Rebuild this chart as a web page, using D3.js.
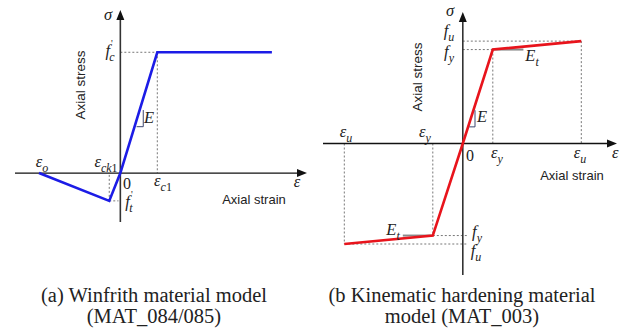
<!DOCTYPE html>
<html>
<head>
<meta charset="utf-8">
<script src="https://cdn.jsdelivr.net/npm/d3@7"></script>
<style>
  body { margin: 0; background: #fff; }
  svg { display: block; }
</style>
</head>
<body>
<svg id="chart" width="622" height="333"></svg>
<script>
// (a) Winfrith: strain in units of eps_c1, stress in units of f'c
const winfrithCurve = [[-2.2, 0], [-0.3, -0.23], [0, 0], [1, 1], [4.1, 1]];
const winfrithXDomain = [-2.85, 5.05];
const winfrithYDomain = [-0.405, 1.35];
// (b) Kinematic hardening: strain in units of eps_y, stress in units of f_y
const kinematicCurve = [[-3.95, -1.07], [-1, -0.98], [0, 0], [1, 1], [3.95, 1.09]];
const kinematicXDomain = [-4.66, 5.14];
const kinematicYDomain = [-1.4, 1.4];

const captionA = ['(a) Winfrith material model', '(MAT_084/085)'];
const captionB = ['(b Kinematic hardening material', 'model (MAT_003)'];

const svg = d3.select('#chart');
const serif = '"Liberation Serif", "Times New Roman", serif';
const sans = '"Liberation Sans", Arial, sans-serif';

function drawAxes(g, x, y) {
  const x0 = x(0), y0 = y(0);
  const [xa, xb] = x.range(), [ya, yb] = y.range();
  g.append('line').attr('x1', xa).attr('x2', xb - 4).attr('y1', y0).attr('y2', y0)
    .attr('stroke', '#111').attr('stroke-width', 1.3);
  g.append('line').attr('x1', x0).attr('x2', x0).attr('y1', ya).attr('y2', yb + 4)
    .attr('stroke', '#333').attr('stroke-width', 1.6);
  g.append('path').attr('d', `M${xb},${y0} L${xb - 10},${y0 - 4} L${xb - 10},${y0 + 4}Z`).attr('fill', '#111');
  g.append('path').attr('d', `M${x0},${yb} L${x0 - 4},${yb + 10} L${x0 + 4},${yb + 10}Z`).attr('fill', '#111');
}

function dashed(g, x, y, segs) {
  g.selectAll(null).data(segs).join('line')
    .attr('x1', d => x(d[0])).attr('y1', d => y(d[1]))
    .attr('x2', d => x(d[2])).attr('y2', d => y(d[3]))
    .attr('stroke', '#777').attr('stroke-width', 1)
    .attr('stroke-dasharray', '2,2');
}

function curve(g, x, y, pts, color) {
  g.append('path').datum(pts)
    .attr('d', d3.line().x(d => x(d[0])).y(d => y(d[1])))
    .attr('fill', 'none').attr('stroke', color).attr('stroke-width', 2.6)
    .attr('stroke-linejoin', 'miter');
}

// math label: base letter, optional prime, subscript (digits upright)
function mathLabel(g, px, py, base, sub, prime, anchor) {
  const t = g.append('text').attr('x', px).attr('y', py)
    .attr('font-family', serif).attr('font-size', 16.5).attr('fill', '#222')
    .attr('text-anchor', anchor || 'middle');
  t.append('tspan').attr('font-style', 'italic').text(base);
  let dy = 4.5;
  if (prime) {
    t.append('tspan').attr('font-size', 10).attr('dy', -9).attr('dx', 1).text("'");
    dy = 13.5;
  }
  if (sub) {
    const parts = sub.match(/[a-z]+|[0-9]+/g);
    parts.forEach((p, i) => {
      const s = t.append('tspan').attr('font-size', 12)
        .attr('font-style', /[0-9]/.test(p) ? 'normal' : 'italic').text(p);
      if (i === 0) {
        s.attr('dy', dy);
        if (prime) s.attr('dx', -3.5);
      }
    });
  }
  return t;
}

function plainText(g, px, py, txt, opts) {
  const t = g.append('text').attr('x', px).attr('y', py).text(txt)
    .attr('font-family', opts.family).attr('font-size', opts.size).attr('fill', '#222')
    .attr('text-anchor', opts.anchor || 'middle');
  if (opts.italic) t.attr('font-style', 'italic');
  if (opts.rotate) t.attr('transform', `rotate(-90,${px},${py})`);
  return t;
}

// ---------- (a) Winfrith ----------
{
  const g = svg.append('g');
  const x = d3.scaleLinear().domain(winfrithXDomain).range([15, 307]);
  const y = d3.scaleLinear().domain(winfrithYDomain).range([222, 10]);
  dashed(g, x, y, [
    [0, 1, 1, 1], [1, 1, 1, 0],
    [-0.3, -0.23, -0.3, 0], [-0.3, -0.23, -0.05, -0.23]
  ]);
  drawAxes(g, x, y);
  curve(g, x, y, winfrithCurve, '#1c1ce6');
  // slope triangle
  g.append('path')
    .attr('d', `M${x(0.44)},${y(0.384)} L${x(0.62)},${y(0.384)} L${x(0.62)},${y(0.522)}`)
    .attr('fill', 'none').attr('stroke', '#3c4670').attr('stroke-width', 1);

  mathLabel(g, 108, 20, 'σ');
  mathLabel(g, 110, 56, 'f', 'c', true);
  mathLabel(g, 42, 167, 'ε', 'o');
  mathLabel(g, 106, 167, 'ε', 'ck1');
  plainText(g, 127, 189, '0', { family: serif, size: 16 });
  mathLabel(g, 163, 186, 'ε', 'c1');
  mathLabel(g, 129, 207, 'f', 't', true);
  mathLabel(g, 149, 123, 'E');
  mathLabel(g, 297, 187, 'ε');
  plainText(g, 85, 85, 'Axial stress', { family: sans, size: 13.5, rotate: true });
  plainText(g, 254, 204, 'Axial strain', { family: sans, size: 13 });
}

// ---------- (b) Kinematic hardening ----------
{
  const g = svg.append('g');
  const x = d3.scaleLinear().domain(kinematicXDomain).range([323, 617]);
  const y = d3.scaleLinear().domain(kinematicYDomain).range([275, 12]);
  dashed(g, x, y, [
    [0, 1.09, 3.95, 1.09], [0, 1, 1, 1], [1, 1, 1, 0], [3.95, 1.09, 3.95, 0],
    [-1, 0, -1, -0.98], [-3.95, 0, -3.95, -1.07],
    [-1, -0.98, 0.17, -0.98], [-3.95, -1.07, 0.17, -1.07]
  ]);
  drawAxes(g, x, y);
  // tangent marks for E_t
  g.append('line').attr('x1', x(1)).attr('x2', x(2.02)).attr('y1', y(1)).attr('y2', y(1))
    .attr('stroke', '#8a8a8a').attr('stroke-width', 2);
  g.append('line').attr('x1', x(-2)).attr('x2', x(-1)).attr('y1', y(-0.98)).attr('y2', y(-0.98))
    .attr('stroke', '#8a8a8a').attr('stroke-width', 2);
  curve(g, x, y, kinematicCurve, '#e8141c');
  g.append('path')
    .attr('d', `M${x(0.217)},${y(0.177)} L${x(0.407)},${y(0.177)} L${x(0.407)},${y(0.354)}`)
    .attr('fill', 'none').attr('stroke', '#3c4670').attr('stroke-width', 1);

  mathLabel(g, 450, 16, 'σ');
  mathLabel(g, 449, 36, 'f', 'u');
  mathLabel(g, 449, 57, 'f', 'y');
  mathLabel(g, 532, 61, 'E', 't');
  mathLabel(g, 482, 122, 'E');
  mathLabel(g, 346, 137, 'ε', 'u');
  mathLabel(g, 425, 137, 'ε', 'y');
  plainText(g, 470, 161, '0', { family: serif, size: 16 });
  mathLabel(g, 497, 158, 'ε', 'y');
  mathLabel(g, 580, 158, 'ε', 'u');
  mathLabel(g, 612, 158, 'ε', null, false, 'start');
  mathLabel(g, 393, 235, 'E', 't');
  mathLabel(g, 477, 237, 'f', 'y');
  mathLabel(g, 476, 256, 'f', 'u');
  plainText(g, 422, 77, 'Axial stress', { family: sans, size: 13.5, rotate: true });
  plainText(g, 572, 180, 'Axial strain', { family: sans, size: 13 });
}

// ---------- captions ----------
captionA.forEach((s, i) => plainText(svg, 154, 302 + i * 21, s, { family: serif, size: 20.5 }));
captionB.forEach((s, i) => plainText(svg, 462, 302 + i * 21, s, { family: serif, size: 20.5 }));
</script>
</body>
</html>
